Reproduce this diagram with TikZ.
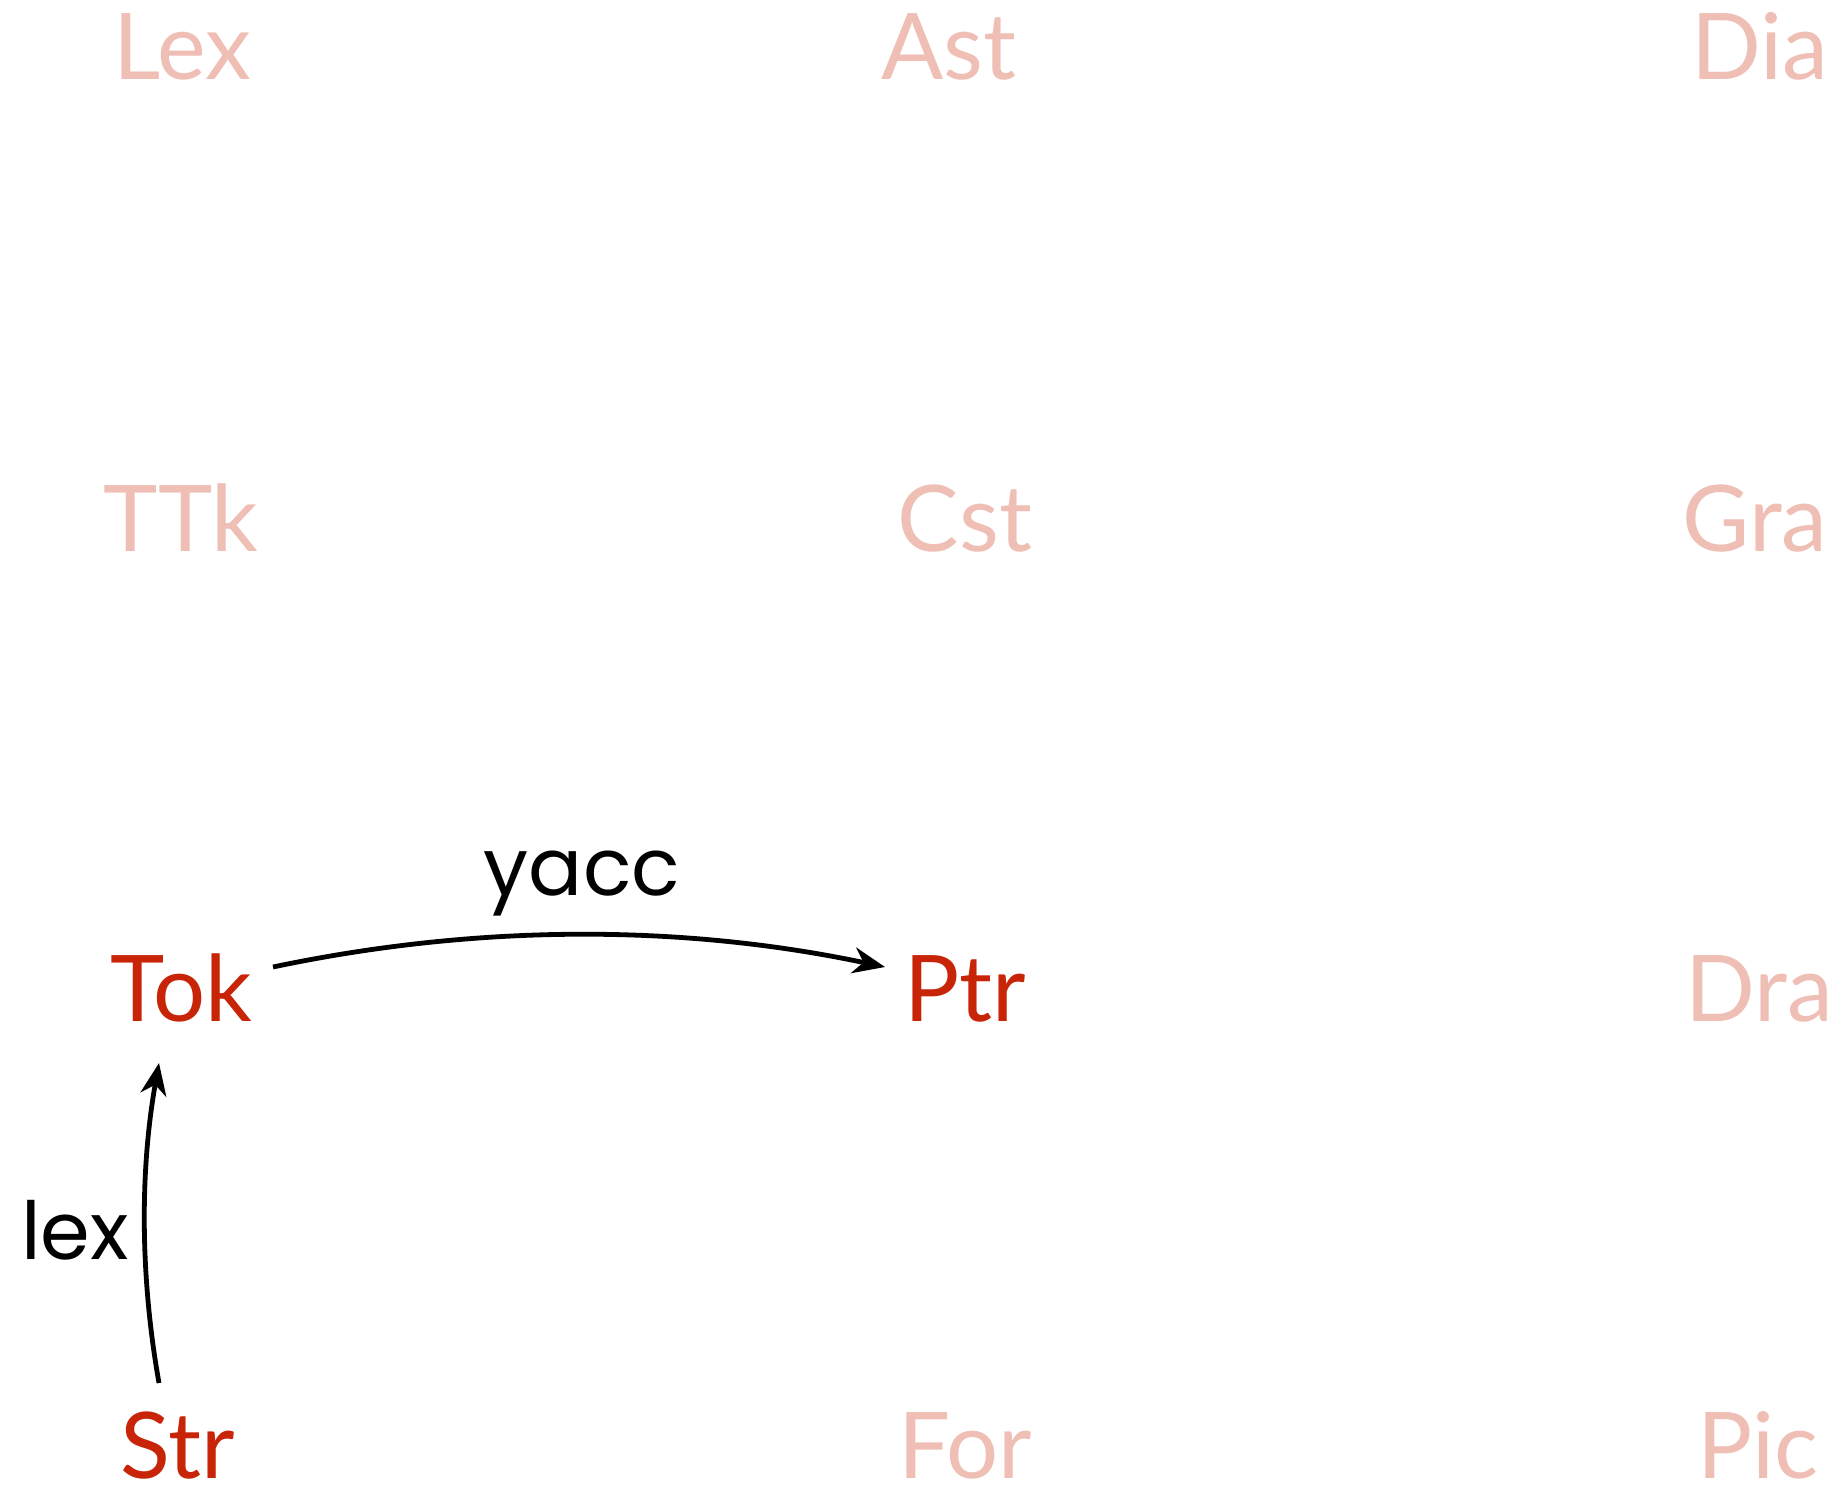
\documentclass[tikz,border=0pt]{standalone}
\usepackage{fontspec}
\setmainfont{Lato}
\newfontfamily\labelfont{Poppins}
\usetikzlibrary{arrows.meta,calc}
\definecolor{darkred}{RGB}{200,36,8}
\definecolor{lightred}{RGB}{239,190,180}
\begin{document}
\begin{tikzpicture}[x=0.5pt,y=-0.5pt,
  term/.style={anchor=base,inner sep=0pt,text depth=0pt,font=\fontsize{46}{50}\selectfont},
  active/.style={term,text=darkred},
  faded/.style={term,text=lightred},
  lbl/.style={anchor=base,inner sep=0pt,font=\labelfont\fontsize{40}{44}\selectfont},
  conn/.style={line width=2.4pt,-{Stealth[length=16pt,width=13pt,inset=5pt]}}]
\useasboundingbox (0,0) rectangle (1842,1498);
% row 1
\node[faded] (lex) at (182,80) {Lex};
\node[faded] (ast) at (949,80) {Ast};
\node[faded] (dia) at (1760,80) {Dia};
% row 2
\node[faded] (ttk) at (181,551) {TTk};
\node[faded] (cst) at (965,551) {Cst};
\node[faded] (gra) at (1755,551) {Gra};
% row 3
\node[active] (tok) at (181,1021) {Tok};
\node[active] (ptr) at (965,1021) {Ptr};
\node[faded] (dra) at (1759,1021) {Dra};
% row 4
\node[active] (str) at (178,1478) {Str};
\node[faded] (for) at (965,1478) {For};
\node[faded] (pic) at (1758,1478) {Pic};
% connectors
\coordinate (ys) at ($(tok.base)+(92,-54)$);
\coordinate (ye) at ($(ptr.base)+(-80,-54)$);
\draw[conn] (ys) .. controls ($(ys)+(204,-43)$) and ($(ye)+(-204,-43)$) .. (ye);
\coordinate (ls) at ($(str.base)+(-19,-95)$);
\coordinate (le) at ($(tok.base)+(-22,42)$);
\draw[conn] (ls) .. controls ($(ls)+(-19,-107)$) and ($(le)+(-19,107)$) .. (le);
% labels
\node[lbl] (yacc) at (582,895) {yacc};
\node[lbl] (lexl) at (75,1259) {lex};
\end{tikzpicture}
\end{document}
